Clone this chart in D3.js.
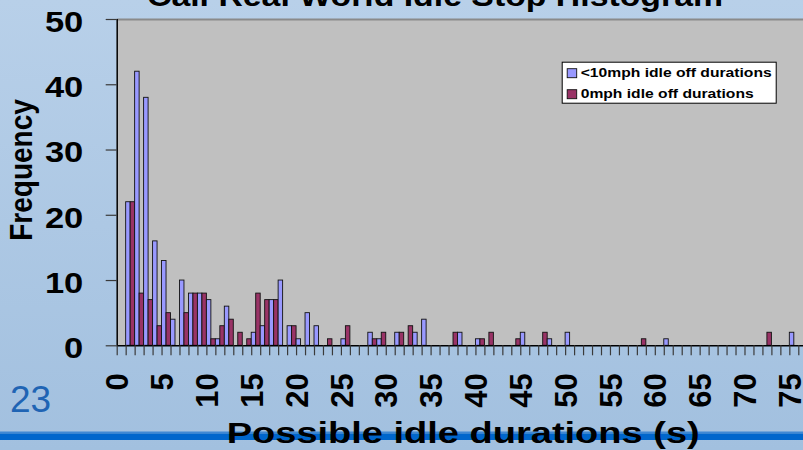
<!DOCTYPE html>
<html>
<head>
<meta charset="utf-8">
<script src="https://cdn.jsdelivr.net/npm/d3@7"></script>
<style>
  html, body { margin: 0; padding: 0; overflow: hidden; background: #aac6e3; }
  svg { display: block; }
  text { font-family: "Liberation Sans", Arial, Helvetica, sans-serif; }
</style>
</head>
<body>
<svg id="chart" width="803" height="450"></svg>
<script>
// Idle-off duration bins (seconds) and counts per bin
const durations = d3.range(0, 76);
const under10mph = [
  0, 22, 42, 38, 16, 13, 4, 10, 8, 8,
  7, 1, 6, 0, 0, 2, 3, 7, 10, 3,
  1, 5, 3, 0, 0, 1, 0, 0, 2, 1,
  0, 2, 0, 2, 4, 0, 0, 0, 2, 0,
  1, 0, 0, 0, 0, 2, 0, 0, 1, 0,
  2, 0, 0, 0, 0, 0, 0, 0, 0, 0,
  0, 1, 0, 0, 0, 0, 0, 0, 0, 0,
  0, 0, 0, 0, 0, 2
];
const zeroMph = [
  0, 22, 8, 7, 3, 5, 0, 5, 8, 8,
  1, 3, 4, 2, 1, 8, 7, 7, 0, 3,
  0, 0, 0, 1, 0, 3, 0, 0, 1, 2,
  0, 2, 3, 0, 0, 0, 0, 2, 0, 0,
  1, 2, 0, 0, 1, 0, 0, 2, 0, 0,
  0, 0, 0, 0, 0, 0, 0, 0, 1, 0,
  0, 0, 0, 0, 0, 0, 0, 0, 0, 0,
  0, 0, 2, 0, 0, 0
];
const seriesNames = ["<10mph idle off durations", "0mph idle off durations"];
const seriesColors = ["#9999ff", "#993366"];
const yTicks = [0, 10, 20, 30, 40, 50];
const xTickLabels = [0, 5, 10, 15, 20, 25, 30, 35, 40, 45, 50, 55, 60, 65, 70, 75];

const W = 803, H = 450;
const plot = { left: 116.7, right: 798.3, top: 19, bottom: 345.3 };

const svg = d3.select("#chart");

// slide background
const defs = svg.append("defs");
const grad = defs.append("linearGradient").attr("id", "bg")
  .attr("x1", 0).attr("y1", 0).attr("x2", 0).attr("y2", 1);
grad.append("stop").attr("offset", "0%").attr("stop-color", "#b8d0e9");
grad.append("stop").attr("offset", "100%").attr("stop-color", "#a2c0df");
svg.append("rect").attr("width", W).attr("height", H).attr("fill", "url(#bg)");

// slide rule near the bottom
svg.append("rect").attr("x", 0).attr("y", 431.5).attr("width", W).attr("height", 2).attr("fill", "#3f88d4");
svg.append("rect").attr("x", 0).attr("y", 433.5).attr("width", W).attr("height", 6.5).attr("fill", "#0066cc");

// slide number
svg.append("text").attr("x", 10).attr("y", 411.5)
  .attr("font-size", 37).attr("fill", "#1f64b4").text("23");

// scales
const xLin = d3.scaleLinear().domain([0, durations.length]).range([plot.left, plot.right]);
const x = d3.scaleBand().domain(durations).range([plot.left, plot.right]).padding(0);
const xs = d3.scaleBand().domain([0, 1]).range([0, x.bandwidth()]).padding(0);
const y = d3.scaleLinear().domain([0, 50]).range([plot.bottom, plot.top]);

// plot area
svg.append("rect").attr("x", plot.left).attr("y", plot.top)
  .attr("width", W - plot.left + 10).attr("height", plot.bottom - plot.top)
  .attr("fill", "#c0c0c0");
svg.append("line").attr("x1", plot.left).attr("x2", W + 10)
  .attr("y1", plot.top + 0.5).attr("y2", plot.top + 0.5)
  .attr("stroke", "#8a8a8a").attr("stroke-width", 2);

// bars
const series = [under10mph, zeroMph];
const rows = [];
durations.forEach((d, i) => {
  series.forEach((s, k) => { if (s[i] > 0) rows.push({ d, k, v: s[i] }); });
});
svg.append("g").selectAll("rect").data(rows).join("rect")
  .attr("x", r => x(r.d) + xs(r.k))
  .attr("y", r => y(r.v))
  .attr("width", xs.bandwidth())
  .attr("height", r => y(0) - y(r.v))
  .attr("fill", r => seriesColors[r.k])
  .attr("stroke", "#111")
  .attr("stroke-width", 0.9);

// x axis
const xAxis = d3.axisBottom(xLin)
  .tickValues(d3.range(0, durations.length + 1))
  .tickSize(10)
  .tickFormat(d => xTickLabels.includes(d) ? String(d) : "");
const gx = svg.append("g").attr("transform", `translate(0,${plot.bottom})`).call(xAxis);
gx.select(".domain").attr("stroke", "#000").attr("stroke-width", 1.5)
  .attr("d", `M${plot.left},0.5H${W + 10}`);
gx.selectAll(".tick line").attr("stroke", "#3a3a3a").attr("stroke-width", 1.2);
gx.selectAll(".tick text")
  .attr("transform", "rotate(-90)")
  .attr("x", -28).attr("y", 0).attr("dy", "0.36em")
  .attr("text-anchor", "end")
  .attr("font-size", 31).attr("font-weight", "bold").attr("fill", "#000")
  .style("font-family", "'Liberation Sans', Arial, sans-serif");

// y axis
const yAxis = d3.axisLeft(y).tickValues(yTicks).tickSize(11).tickPadding(22);
const gy = svg.append("g").attr("transform", `translate(${plot.left},0)`).call(yAxis);
gy.select(".domain").attr("stroke", "#000").attr("stroke-width", 1.5)
  .attr("d", `M0.5,${plot.top}V${plot.bottom}`);
gy.selectAll(".tick line").attr("stroke", "#3a3a3a").attr("stroke-width", 1.2);
gy.selectAll(".tick text")
  .attr("x", 0).attr("dy", "0.36em")
  .attr("transform", "translate(-33.4,1.5) scale(1.15,1)")
  .attr("text-anchor", "end")
  .attr("font-size", 30).attr("font-weight", "bold").attr("fill", "#000")
  .style("font-family", "'Liberation Sans', Arial, sans-serif");

// axis titles
svg.append("text")
  .attr("transform", "translate(31.5,170) scale(1.1,1) rotate(-90)")
  .attr("text-anchor", "middle")
  .attr("font-size", 28).attr("font-weight", "bold").text("Frequency");

svg.append("text").attr("x", 226.7).attr("y", 443.3)
  .attr("font-size", 30).attr("font-weight", "bold")
  .attr("textLength", 473).attr("lengthAdjust", "spacingAndGlyphs")
  .text("Possible idle durations (s)");

// chart title (top edge of the slide)
svg.append("text").attr("x", 147).attr("y", 6)
  .attr("font-size", 30).attr("font-weight", "bold")
  .attr("textLength", 576).attr("lengthAdjust", "spacingAndGlyphs")
  .text("Cali Real World Idle Stop Histogram");

// legend
const lg = svg.append("g").attr("transform", "translate(561.7,61.7)");
lg.append("rect").attr("x", 0.5).attr("y", 0.5).attr("width", 214).attr("height", 41)
  .attr("fill", "#fff").attr("stroke", "#000").attr("stroke-width", 1);
const legendLengths = [191, 173];
seriesNames.forEach((name, k) => {
  const row = lg.append("g").attr("transform", `translate(0,${k * 21})`);
  row.append("rect").attr("x", 5.5).attr("y", 7).attr("width", 9.5).attr("height", 9)
    .attr("fill", seriesColors[k]).attr("stroke", "#111").attr("stroke-width", 0.9);
  row.append("text").attr("x", 19).attr("y", 15.8)
    .attr("font-size", 13).attr("font-weight", "bold")
    .attr("textLength", legendLengths[k]).attr("lengthAdjust", "spacingAndGlyphs")
    .text(name);
});
</script>
</body>
</html>
